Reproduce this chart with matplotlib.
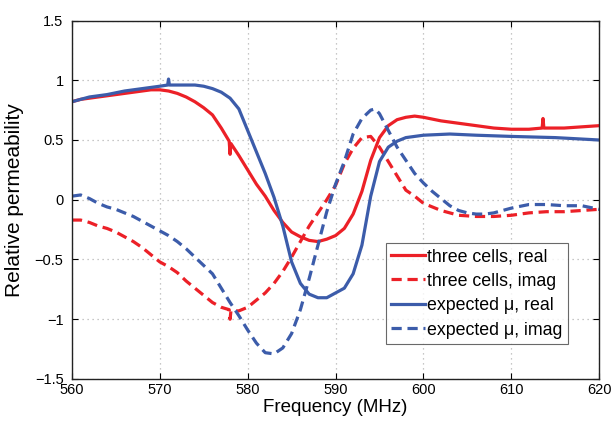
import matplotlib
matplotlib.use("Agg")
import matplotlib.pyplot as plt

plt.rcParams['font.family'] = ['Liberation Sans', 'DejaVu Sans']

# three cells, real
f_red_re = [560, 561, 562, 563, 564, 565, 566, 567, 568, 569, 570, 571, 572, 573, 574, 575, 576, 577,
            577.9, 578.0, 578.1, 579, 580, 581, 582, 583, 584, 585, 586, 587, 588, 589, 590, 591, 592,
            593, 594, 595, 596, 597, 598, 599, 600, 602, 604, 606, 608, 610, 612, 613.5, 613.6, 613.7,
            616, 618, 620]
v_red_re = [0.82, 0.84, 0.85, 0.86, 0.87, 0.88, 0.89, 0.90, 0.91, 0.92, 0.92, 0.91, 0.89, 0.86, 0.82,
            0.77, 0.71, 0.60, 0.49, 0.38, 0.47, 0.37, 0.25, 0.13, 0.03, -0.09, -0.19, -0.27, -0.31, -0.34,
            -0.35, -0.33, -0.30, -0.24, -0.12, 0.07, 0.33, 0.52, 0.62, 0.67, 0.69, 0.70, 0.69, 0.66, 0.64,
            0.62, 0.60, 0.59, 0.59, 0.60, 0.68, 0.60, 0.60, 0.61, 0.62]

# three cells, imag
f_red_im = [560, 561, 562, 563, 564, 565, 566, 567, 568, 569, 570, 571, 572, 573, 574, 575, 576, 577,
            577.9, 578.0, 578.1, 579, 580, 581, 582, 583, 584, 585, 586, 587, 588, 589, 590, 591, 592,
            593, 594, 595, 596, 597, 598, 599, 600, 601, 602, 603, 604, 606, 608, 610, 612, 614, 616,
            618, 620]
v_red_im = [-0.17, -0.17, -0.19, -0.22, -0.24, -0.27, -0.31, -0.35, -0.40, -0.46, -0.52, -0.56, -0.61,
            -0.68, -0.74, -0.80, -0.86, -0.90, -0.92, -1.00, -0.93, -0.93, -0.90, -0.84, -0.78, -0.70,
            -0.60, -0.48, -0.35, -0.22, -0.11, 0.00, 0.12, 0.30, 0.43, 0.52, 0.53, 0.44, 0.32, 0.20,
            0.08, 0.03, -0.03, -0.06, -0.09, -0.11, -0.13, -0.14, -0.14, -0.13, -0.11, -0.10, -0.10,
            -0.09, -0.08]

# expected mu, real
f_blue_re = [560, 562, 564, 566, 568, 570, 570.9, 571.0, 571.1, 572, 574, 575, 576, 577, 578, 579, 580,
             581, 582, 583, 584, 585, 586, 587, 588, 589, 590, 591, 592, 593, 594, 595, 596, 597, 598,
             600, 603, 606, 610, 615, 620]
v_blue_re = [0.82, 0.86, 0.88, 0.91, 0.93, 0.95, 0.96, 1.01, 0.96, 0.96, 0.96, 0.95, 0.93, 0.90, 0.85,
             0.76, 0.58, 0.40, 0.22, 0.02, -0.22, -0.52, -0.70, -0.79, -0.82, -0.82, -0.78, -0.74,
             -0.62, -0.38, 0.03, 0.32, 0.44, 0.49, 0.52, 0.54, 0.55, 0.54, 0.53, 0.52, 0.50]

# expected mu, imag
f_blue_im = [560, 561, 562, 563, 564, 565, 566, 567, 568, 569, 570, 571, 572, 573, 574, 575, 576, 577,
             578, 579, 580, 581, 582, 583, 584, 585, 586, 587, 588, 589, 590, 591, 592, 593, 594, 594.5,
             595, 596, 597, 598, 599, 600, 601, 602, 603, 604, 605, 606, 607, 608, 610, 612, 614, 616,
             618, 620]
v_blue_im = [0.03, 0.04, 0.01, -0.03, -0.06, -0.08, -0.11, -0.14, -0.18, -0.22, -0.26, -0.30, -0.35,
             -0.41, -0.48, -0.55, -0.62, -0.74, -0.86, -0.97, -1.09, -1.20, -1.28, -1.29, -1.24, -1.12,
             -0.92, -0.66, -0.38, -0.10, 0.13, 0.32, 0.55, 0.68, 0.75, 0.76, 0.72, 0.58, 0.44, 0.33,
             0.22, 0.14, 0.07, 0.01, -0.05, -0.09, -0.11, -0.12, -0.12, -0.11, -0.07, -0.04, -0.04,
             -0.05, -0.05, -0.08]

labels = ['three cells, real', 'three cells, imag', 'expected \u03bc, real', 'expected \u03bc, imag']
x_ticks = [560, 570, 580, 590, 600, 610, 620]
y_ticks = [-1.5, -1, -0.5, 0, 0.5, 1, 1.5]
y_tick_labels = ['\u22121.5', '\u22121', '\u22120.5', '0', '0.5', '1', '1.5']

RED = '#EC2027'
BLUE = '#3C5CAA'
LW = 2.3
DASH = (0, (3.2, 1.8))

fig = plt.figure(figsize=(6.14, 4.21), dpi=100)
ax = fig.add_axes([0.117, 0.0998, 0.859, 0.8515])

ax.plot(f_red_re, v_red_re, color=RED, lw=LW, label=labels[0])
ax.plot(f_red_im, v_red_im, color=RED, lw=LW, ls=DASH, label=labels[1])
ax.plot(f_blue_re, v_blue_re, color=BLUE, lw=LW, label=labels[2])
ax.plot(f_blue_im, v_blue_im, color=BLUE, lw=LW, ls=DASH, label=labels[3])

ax.set_xlim(560, 620)
ax.set_ylim(-1.5, 1.5)
ax.set_xticks(x_ticks)
ax.set_yticks(y_ticks)
ax.set_yticklabels(y_tick_labels)
ax.tick_params(direction='in', length=4, width=0.8, labelsize=10.5, top=True, right=True)
ax.tick_params(axis='x', pad=3)
ax.tick_params(axis='y', pad=6)
ax.grid(True, color='#b5b5b5', ls=(0, (1, 3)), lw=0.9)
for s in ax.spines.values():
    s.set_linewidth(1.0)
    s.set_color('#222222')

ax.set_xlabel('Frequency (MHz)', fontsize=13.5, labelpad=1)
ax.set_ylabel('Relative permeability', fontsize=15, labelpad=8)

leg = ax.legend(loc='lower right', bbox_to_anchor=(0.941, 0.098), borderaxespad=0,
                fontsize=12.8, frameon=True, fancybox=False, handlelength=1.9,
                handletextpad=0.15, labelspacing=0.42, borderpad=0.3)
leg.get_frame().set_edgecolor('#444444')
leg.get_frame().set_linewidth(0.8)

fig.savefig('out.png', dpi=100)
